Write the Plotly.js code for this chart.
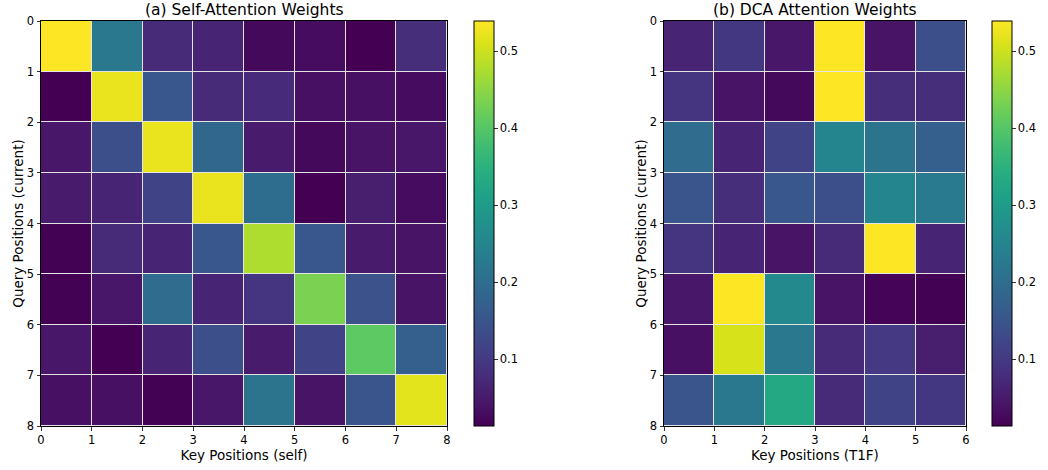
<!DOCTYPE html>
<html>
<head>
<meta charset="utf-8">
<script src="https://cdn.plot.ly/plotly-3.0.1.min.js"></script>
<style>body{margin:0;background:#fff}#chart{width:1048px;height:470px}</style>
</head>
<body>
<div id="chart"></div>
<script>
// Self-attention weights (8 query rows x 8 key columns)
const selfAttn = [
  [0.539, 0.223, 0.076, 0.066, 0.024, 0.029, 0.013, 0.080],
  [0.013, 0.523, 0.155, 0.076, 0.075, 0.034, 0.034, 0.029],
  [0.045, 0.140, 0.523, 0.187, 0.050, 0.024, 0.040, 0.045],
  [0.050, 0.066, 0.118, 0.523, 0.200, 0.013, 0.055, 0.029],
  [0.015, 0.076, 0.066, 0.155, 0.476, 0.155, 0.050, 0.040],
  [0.015, 0.045, 0.197, 0.066, 0.092, 0.434, 0.145, 0.040],
  [0.045, 0.013, 0.066, 0.140, 0.050, 0.118, 0.408, 0.170],
  [0.034, 0.034, 0.015, 0.045, 0.213, 0.040, 0.150, 0.518]
];
// DCA attention weights (8 query rows x 6 T1F key columns)
const dcaAttn = [
  [0.066, 0.097, 0.045, 0.539, 0.040, 0.140],
  [0.092, 0.040, 0.024, 0.539, 0.080, 0.080],
  [0.197, 0.066, 0.118, 0.250, 0.213, 0.170],
  [0.150, 0.080, 0.155, 0.140, 0.250, 0.228],
  [0.092, 0.066, 0.040, 0.076, 0.539, 0.066],
  [0.045, 0.539, 0.260, 0.040, 0.018, 0.015],
  [0.034, 0.507, 0.223, 0.076, 0.100, 0.055],
  [0.150, 0.223, 0.329, 0.076, 0.118, 0.097]
];
const selfKeyTicks = [0,1,2,3,4,5,6,7,8];
const dcaKeyTicks = [0,1,2,3,4,5,6];
const queryTicks = [0,1,2,3,4,5,6,7,8];
const cbTicks = [0.1,0.2,0.3,0.4,0.5];
const titles = ['(a) Self-Attention Weights', '(b) DCA Attention Weights'];
const xTitles = ['Key Positions (self)', 'Key Positions (T1F)'];
const yTitle = 'Query Positions (current)';

const FONT = 'DejaVu Sans, sans-serif';
const W = 1048, H = 470;
const yDom = [1 - 426/H, 1 - 21/H];

function cb(xpx) {
  return {
    x: xpx / W, xanchor: 'left', xpad: 0, ypad: 0,
    y: yDom[0], yanchor: 'bottom', len: yDom[1] - yDom[0], lenmode: 'fraction',
    thickness: 20, thicknessmode: 'pixels',
    outlinewidth: 1, outlinecolor: '#000',
    tickvals: cbTicks, ticks: 'outside', ticklen: 3.5, tickwidth: 0.8, tickcolor: '#000',
    tickfont: {family: FONT, size: 11.5, color: '#000'}
  };
}
const zmin = 0.013, zmax = 0.539;
const traces = [
  {type: 'heatmap', z: selfAttn, x0: 0.5, dx: 1, y0: 0.5, dy: 1, xaxis: 'x', yaxis: 'y',
   colorscale: 'Viridis', zmin: zmin, zmax: zmax, xgap: 1, ygap: 1, colorbar: cb(474)},
  {type: 'heatmap', z: dcaAttn, x0: 0.5, dx: 1, y0: 0.5, dy: 1, xaxis: 'x2', yaxis: 'y2',
   colorscale: 'Viridis', zmin: zmin, zmax: zmax, xgap: 1, ygap: 1, colorbar: cb(992)}
];
function xax(dom, ticks, title, anchor) {
  return {
    domain: dom, anchor: anchor, range: [ticks[0], ticks[ticks.length-1]],
    tickvals: ticks, ticks: 'outside', ticklen: 3.5, tickwidth: 0.8, tickcolor: '#000',
    showgrid: false, zeroline: false, showline: true, mirror: true, linecolor: '#000', linewidth: 1,
    tickfont: {family: FONT, size: 11.5, color: '#000'},
    title: {text: title, font: {family: FONT, size: 13.5, color: '#000'}, standoff: 3}
  };
}
function yax(ticks, title, anchor) {
  return {
    domain: yDom, anchor: anchor, range: [ticks[ticks.length-1], ticks[0]],
    tickvals: ticks, ticks: 'outside', ticklen: 3.5, tickwidth: 0.8, tickcolor: '#000',
    showgrid: false, zeroline: false, showline: true, mirror: true, linecolor: '#000', linewidth: 1,
    tickfont: {family: FONT, size: 11.5, color: '#000'},
    title: {text: title, font: {family: FONT, size: 13.5, color: '#000'}, standoff: 0}
  };
}
const layout = {
  width: W, height: H, margin: {l: 0, r: 0, t: 0, b: 0},
  paper_bgcolor: '#fff', plot_bgcolor: '#e4e4e4',
  font: {family: FONT, color: '#000'},
  xaxis: xax([41/W, 447/W], selfKeyTicks, xTitles[0], 'y'),
  yaxis: yax(queryTicks, yTitle, 'x'),
  xaxis2: xax([664/W, 966/W], dcaKeyTicks, xTitles[1], 'y2'),
  yaxis2: yax(queryTicks, yTitle, 'x2'),
  annotations: [
    {text: titles[0], xref: 'paper', yref: 'paper', x: (41+447)/2/W, xanchor: 'center', y: yDom[1], yanchor: 'bottom', yshift: 0,
     showarrow: false, font: {family: FONT, size: 15.5, color: '#000'}},
    {text: titles[1], xref: 'paper', yref: 'paper', x: (664+966)/2/W, xanchor: 'center', y: yDom[1], yanchor: 'bottom', yshift: 0,
     showarrow: false, font: {family: FONT, size: 15.5, color: '#000'}}
  ],
  showlegend: false
};
Plotly.newPlot('chart', traces, layout, {displayModeBar: false, staticPlot: true});
</script>
</body>
</html>
